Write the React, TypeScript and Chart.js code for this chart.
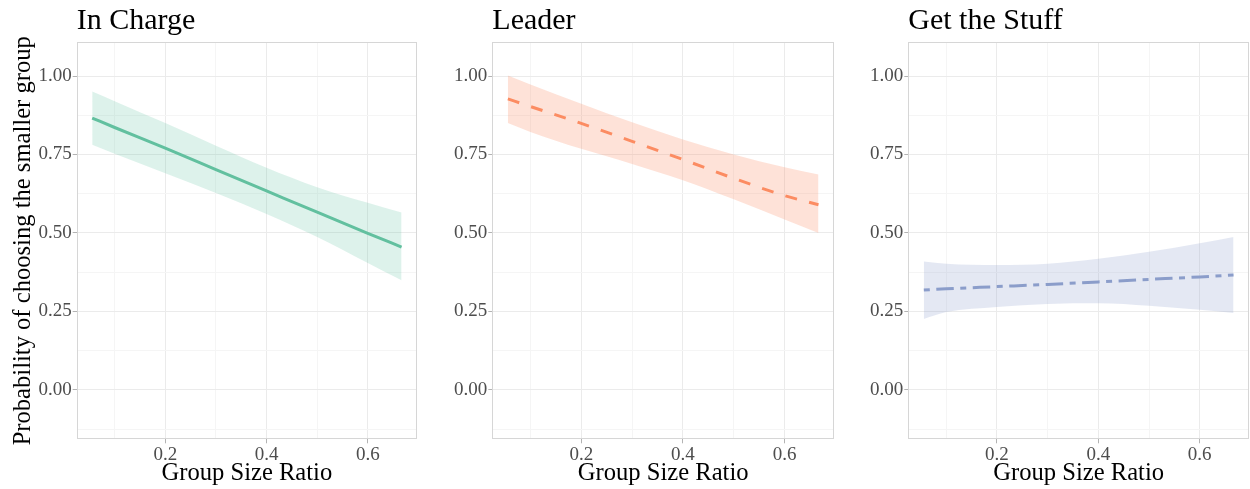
import React, { useEffect, useRef } from "react";
import { Chart, registerables } from "chart.js";

Chart.register(...registerables);

// ---- data ----
const xValues = [0.0556, 0.1, 0.2, 0.3, 0.4, 0.5, 0.6, 0.6667];

const inChargeFit = [0.866, 0.836, 0.77, 0.702, 0.634, 0.566, 0.499, 0.455];
const inChargeUpper = [0.951, 0.92, 0.85, 0.778, 0.708, 0.646, 0.596, 0.565];
const inChargeLower = [0.781, 0.752, 0.69, 0.627, 0.56, 0.487, 0.404, 0.349];

const leaderFit = [0.927, 0.903, 0.849, 0.792, 0.734, 0.674, 0.619, 0.59];
const leaderUpper = [1.002, 0.973, 0.912, 0.853, 0.798, 0.75, 0.709, 0.686];
const leaderLower = [0.85, 0.822, 0.768, 0.72, 0.668, 0.607, 0.543, 0.5];

const stuffFit = [0.318, 0.322, 0.329, 0.336, 0.344, 0.352, 0.36, 0.366];
const stuffUpper = [0.409, 0.402, 0.398, 0.402, 0.418, 0.44, 0.467, 0.487];
const stuffLower = [0.226, 0.248, 0.264, 0.274, 0.276, 0.268, 0.255, 0.245];

const panelTitles = ["In Charge", "Leader", "Get the Stuff"];
const xMajorTicks = [0.2, 0.4, 0.6];
const xMinorTicks = [0.1, 0.3, 0.5];
const yMajorTicks = [0, 0.25, 0.5, 0.75, 1.0];
const yMinorTicks = [-0.125, 0.125, 0.375, 0.625, 0.875];
const xTitle = "Group Size Ratio";
const yTitle = "Probability of choosing the smaller group";

// ---- style / layout ----
const FONT = "'Liberation Serif', 'Times New Roman', Times, serif";
const X_MIN = 0.025;
const X_MAX = 0.6972;
const Y_MIN = -0.1575;
const Y_MAX = 1.1075;
const H = 489;

const panels = [
  { title: panelTitles[0], fit: inChargeFit, upper: inChargeUpper, lower: inChargeLower,
    color: "#62bf9e", band: "rgba(102,194,165,0.22)", dash: [] as number[],
    left: 0, width: 420, axisWidth: 76.7, rightPad: 3, showYTitle: true },
  { title: panelTitles[1], fit: leaderFit, upper: leaderUpper, lower: leaderLower,
    color: "#fc8d62", band: "rgba(252,141,98,0.25)", dash: [12, 12.5],
    left: 420, width: 417, axisWidth: 72.3, rightPad: 3, showYTitle: false },
  { title: panelTitles[2], fit: stuffFit, upper: stuffUpper, lower: stuffLower,
    color: "#8a9dca", band: "rgba(141,160,203,0.24)", dash: [6, 6.5, 17.5, 6.5],
    left: 837, width: 413, axisWidth: 71.3, rightPad: 1, showYTitle: false },
];

const isIn = (arr: number[], v: number) => arr.some((m) => Math.abs(m - v) < 1e-9);

const borderPlugin = {
  id: "panelBorder",
  afterDatasetsDraw(chart: any) {
    const { ctx, chartArea } = chart;
    ctx.save();
    ctx.strokeStyle = "#d6d6d6";
    ctx.lineWidth = 1;
    ctx.strokeRect(
      Math.round(chartArea.left) + 0.5,
      Math.round(chartArea.top) + 0.5,
      Math.round(chartArea.right - chartArea.left) - 1,
      Math.round(chartArea.bottom - chartArea.top) - 1
    );
    ctx.restore();
  },
};

function Panel({ p }: { p: (typeof panels)[number] }) {
  const ref = useRef<HTMLCanvasElement | null>(null);
  useEffect(() => {
    if (!ref.current) return;
    const chart = new Chart(ref.current, {
      type: "line",
      data: {
        datasets: [
          {
            label: "upper",
            data: xValues.map((x, i) => ({ x, y: p.upper[i] })),
            borderWidth: 0,
            borderColor: "rgba(0,0,0,0)",
            backgroundColor: p.band,
            pointRadius: 0,
            fill: "+1",
            cubicInterpolationMode: "monotone",
          },
          {
            label: "lower",
            data: xValues.map((x, i) => ({ x, y: p.lower[i] })),
            borderWidth: 0,
            borderColor: "rgba(0,0,0,0)",
            pointRadius: 0,
            fill: false,
            cubicInterpolationMode: "monotone",
          },
          {
            label: "fit",
            data: xValues.map((x, i) => ({ x, y: p.fit[i] })),
            borderWidth: 3,
            borderColor: p.color,
            borderDash: p.dash,
            borderCapStyle: "butt",
            pointRadius: 0,
            fill: false,
            cubicInterpolationMode: "monotone",
          },
        ],
      },
      options: {
        animation: false,
        responsive: false,
        events: [],
        layout: { padding: { left: 0, right: p.rightPad, top: 0, bottom: 0 } },
        plugins: {
          legend: { display: false },
          tooltip: { enabled: false },
          title: {
            display: true,
            text: p.title,
            align: "start",
            fullSize: false,
            color: "#000",
            font: { family: FONT, size: 30, weight: "normal", lineHeight: 1.2 },
            padding: { top: 3, bottom: 3.3 },
          },
        },
        scales: {
          x: {
            type: "linear",
            min: X_MIN,
            max: X_MAX,
            afterBuildTicks: (scale: any) => {
              scale.ticks = [...xMinorTicks, ...xMajorTicks]
                .sort((a, b) => a - b)
                .map((v) => ({ value: v }));
            },
            afterFit: (scale: any) => {
              scale.height = 49.7;
            },
            ticks: {
              autoSkip: false,
              maxRotation: 0,
              padding: 0,
              color: "#4d4d4d",
              font: { family: FONT, size: 19 },
              callback: (v: any) => (isIn(xMajorTicks, Number(v)) ? Number(v).toFixed(1) : ""),
            },
            grid: {
              color: (c: any) => (isIn(xMajorTicks, c.tick?.value) ? "#ebebeb" : "#f5f5f5"),
              lineWidth: 1,
              tickLength: 4,
              tickColor: (c: any) => (isIn(xMajorTicks, c.tick?.value) ? "#b3b3b3" : "rgba(0,0,0,0)"),
            },
            border: { display: false },
            title: {
              display: true,
              text: xTitle,
              color: "#000",
              font: { family: FONT, size: 24.6, lineHeight: 1.2 },
              padding: { top: 0, bottom: 1 },
            },
          },
          y: {
            type: "linear",
            min: Y_MIN,
            max: Y_MAX,
            afterBuildTicks: (scale: any) => {
              scale.ticks = [...yMinorTicks, ...yMajorTicks]
                .sort((a, b) => a - b)
                .map((v) => ({ value: v }));
            },
            afterFit: (scale: any) => {
              scale.width = p.axisWidth;
            },
            ticks: {
              autoSkip: false,
              padding: 1,
              color: "#4d4d4d",
              font: { family: FONT, size: 19 },
              callback: (v: any) => (isIn(yMajorTicks, Number(v)) ? Number(v).toFixed(2) : ""),
            },
            grid: {
              color: (c: any) => (isIn(yMajorTicks, c.tick?.value) ? "#ebebeb" : "#f5f5f5"),
              lineWidth: 1,
              tickLength: 4,
              tickColor: (c: any) => (isIn(yMajorTicks, c.tick?.value) ? "#b3b3b3" : "rgba(0,0,0,0)"),
            },
            border: { display: false },
            title: {
              display: p.showYTitle,
              text: yTitle,
              color: "#000",
              font: { family: FONT, size: 24.6, lineHeight: 1.2 },
              padding: { top: 9, bottom: 0 },
            },
          },
        },
      },
      plugins: [borderPlugin],
    } as any);
    return () => chart.destroy();
  }, [p]);

  return (
    <canvas
      ref={ref}
      width={p.width}
      height={H}
      style={{ position: "absolute", left: p.left, top: 0, width: p.width, height: H }}
    />
  );
}

export default function App() {
  return (
    <div
      style={{
        position: "fixed",
        left: 0,
        top: 0,
        width: 1250,
        height: H,
        background: "#fff",
        overflow: "hidden",
      }}
    >
      {panels.map((p) => (
        <Panel key={p.title} p={p} />
      ))}
    </div>
  );
}
